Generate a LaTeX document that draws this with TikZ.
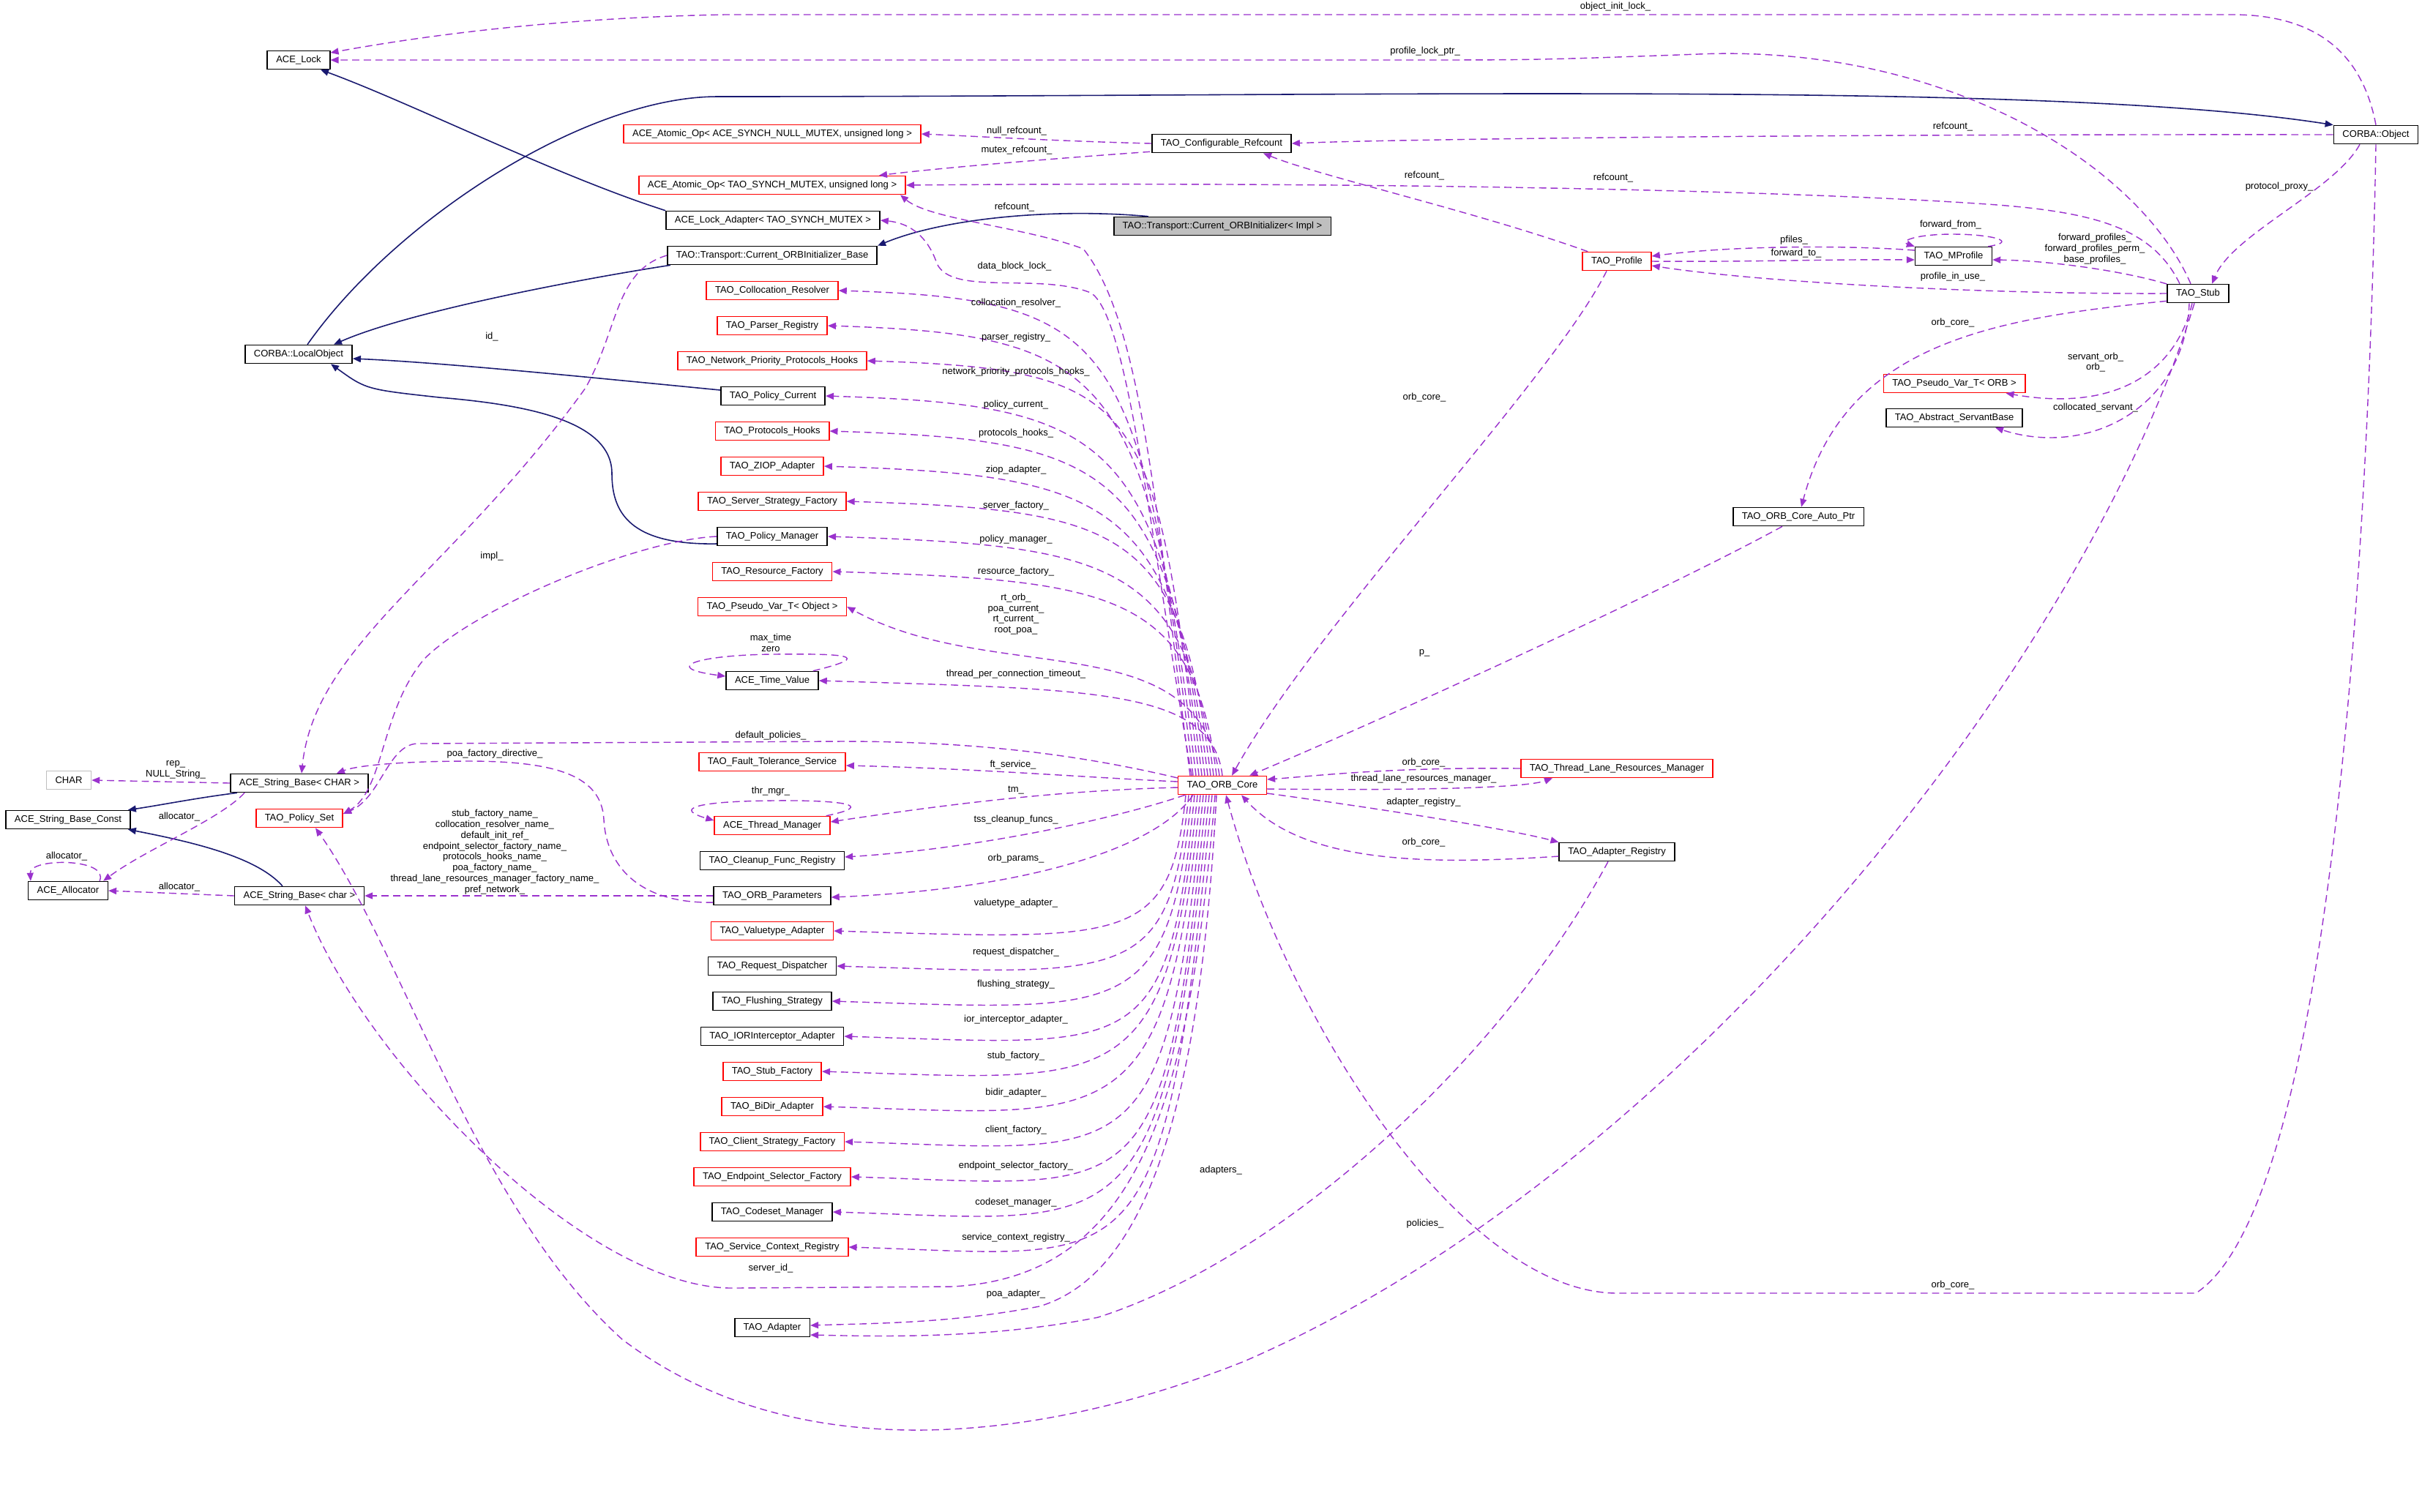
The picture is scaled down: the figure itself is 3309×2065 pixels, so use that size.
\documentclass[tikz,border=0pt]{standalone}
\usepackage{fontspec}
\setmainfont{Liberation Sans}
\usepackage{xcolor}
\usetikzlibrary{arrows.meta, calc}

\definecolor{memberviolet}{HTML}{9A32CD}
\definecolor{basenavy}{HTML}{191970}

\begin{document}
\begin{tikzpicture}[x=0.01cm, y=-0.01cm,
    cls/.style={draw=black, line width=0.45pt, fill=white, inner xsep=0.12cm, inner ysep=0pt,
      minimum height=0.25cm, font=\fontsize{3.7}{4.2}\selectfont},
    clsred/.style={cls, draw=red},
    clsgrey/.style={cls, fill=gray!50},
    clsfaint/.style={cls, draw=gray!50},
    lbl/.style={inner sep=0pt, align=center, font=\fontsize{3.7}{4.2}\selectfont},
    usage/.style={draw=memberviolet, line width=0.4pt, dash pattern=on 2.8pt off 1.7pt,
      -{Triangle[length=0.11cm, width=0.09cm]}},
    derived/.style={draw=basenavy, line width=0.45pt, -{Triangle[length=0.11cm, width=0.09cm]}}]

    % Page
    \fill[white] (0,0) rectangle (3309,2065);
    \useasboundingbox (0,0) rectangle (3309,2065);

    % Upper classes
    \node[cls] (lock) at (408,82) {ACE\_Lock};
    \node[cls] (corbaobj) at (3246,184) {CORBA::Object};
    \node[clsred] (atomicnull) at (1055,183) {ACE\_Atomic\_Op< ACE\_SYNCH\_NULL\_MUTEX, unsigned long >};
    \node[cls] (confref) at (1669,196) {TAO\_Configurable\_Refcount};
    \node[clsred] (atomicmutex) at (1055,253) {ACE\_Atomic\_Op< TAO\_SYNCH\_MUTEX, unsigned long >};
    \node[cls] (lockadapter) at (1056,301) {ACE\_Lock\_Adapter< TAO\_SYNCH\_MUTEX >};
    \node[clsgrey] (impl) at (1670,309) {TAO::Transport::Current\_ORBInitializer< Impl >};
    \node[cls] (initbase) at (1055,349) {TAO::Transport::Current\_ORBInitializer\_Base};

    % Column of ORB core members
    \node[clsred] (collres) at (1055,397) {TAO\_Collocation\_Resolver};
    \node[clsred] (parser) at (1055,445) {TAO\_Parser\_Registry};
    \node[clsred] (netprio) at (1055,493) {TAO\_Network\_Priority\_Protocols\_Hooks};
    \node[cls] (polcur) at (1056,541) {TAO\_Policy\_Current};
    \node[clsred] (prothooks) at (1055,589) {TAO\_Protocols\_Hooks};
    \node[clsred] (ziop) at (1055,637) {TAO\_ZIOP\_Adapter};
    \node[clsred] (serverfac) at (1055,685) {TAO\_Server\_Strategy\_Factory};
    \node[cls] (polmgr) at (1055,733) {TAO\_Policy\_Manager};
    \node[clsred] (resfac) at (1055,781) {TAO\_Resource\_Factory};
    \node[clsred] (pvobj) at (1055,829) {TAO\_Pseudo\_Var\_T< Object >};
    \node[cls] (timeval) at (1055,930) {ACE\_Time\_Value};
    \node[clsred] (ftserv) at (1055,1041) {TAO\_Fault\_Tolerance\_Service};
    \node[clsred] (thrmgr) at (1055,1128) {ACE\_Thread\_Manager};
    \node[cls] (cleanup) at (1055,1176) {TAO\_Cleanup\_Func\_Registry};
    \node[cls] (orbparams) at (1055,1224) {TAO\_ORB\_Parameters};
    \node[clsred] (valuetype) at (1055,1272) {TAO\_Valuetype\_Adapter};
    \node[cls] (reqdisp) at (1055,1320) {TAO\_Request\_Dispatcher};
    \node[cls] (flushing) at (1055,1368) {TAO\_Flushing\_Strategy};
    \node[cls] (iorint) at (1055,1416) {TAO\_IORInterceptor\_Adapter};
    \node[clsred] (stubfac) at (1055,1464) {TAO\_Stub\_Factory};
    \node[clsred] (bidir) at (1055,1512) {TAO\_BiDir\_Adapter};
    \node[clsred] (clientfac) at (1055,1560) {TAO\_Client\_Strategy\_Factory};
    \node[clsred] (endpoint) at (1055,1608) {TAO\_Endpoint\_Selector\_Factory};
    \node[cls] (codeset) at (1055,1656) {TAO\_Codeset\_Manager};
    \node[clsred] (svcctx) at (1055,1704) {TAO\_Service\_Context\_Registry};
    \node[cls] (adapter) at (1055,1814) {TAO\_Adapter};

    % Left classes
    \node[cls] (localobj) at (408,484) {CORBA::LocalObject};
    \node[clsfaint] (charnode) at (94,1066) {CHAR};
    \node[cls] (strbaseCHAR) at (409,1070) {ACE\_String\_Base< CHAR >};
    \node[cls] (strconst) at (93,1120) {ACE\_String\_Base\_Const};
    \node[clsred] (polset) at (409,1118) {TAO\_Policy\_Set};
    \node[cls] (allocator) at (93,1217) {ACE\_Allocator};
    \node[cls] (strbasechar) at (409,1224) {ACE\_String\_Base< char >};

    % Core and right classes
    \node[clsred] (core) at (1670,1073) {TAO\_ORB\_Core};
    \node[clsred] (tlrm) at (2209,1050) {TAO\_Thread\_Lane\_Resources\_Manager};
    \node[cls] (adreg) at (2209,1164) {TAO\_Adapter\_Registry};
    \node[cls] (autoptr) at (2457,706) {TAO\_ORB\_Core\_Auto\_Ptr};
    \node[clsred] (profile) at (2209,357) {TAO\_Profile};
    \node[cls] (mprofile) at (2669,350) {TAO\_MProfile};
    \node[cls] (stub) at (3003,401) {TAO\_Stub};
    \node[clsred] (pvorb) at (2670,524) {TAO\_Pseudo\_Var\_T< ORB >};
    \node[cls] (servant) at (2670,571) {TAO\_Abstract\_ServantBase};

    % Inheritance
    \draw[derived] (lockadapter.north west) .. controls (760,240) and (560,140) .. ($(lock.south)+(30,0)$);
    \draw[derived] ($(localobj.north)+(12,0)$) .. controls (540,300) and (800,132) .. (980,132)
      .. controls (1900,132) and (2800,110) .. (corbaobj.north west);
    \draw[derived] ($(impl.north west)+(48,0)$) .. controls (1440,284) and (1290,298) .. (initbase.north east);
    \draw[derived] ($(initbase.south west)+(5,0)$) .. controls (800,380) and (560,425) .. ($(localobj.north)+(48,0)$);
    \draw[derived] ($(polcur.west)+(0,-8)$) .. controls (800,515) and (600,495) .. ($(localobj.east)+(0,6)$);
    \draw[derived] ($(polmgr.west)+(0,10)$) .. controls (860,745) and (836,700) .. (836,647)
      .. controls (836,575) and (720,553) .. (600,543) .. controls (500,532) .. ($(localobj.south)+(44,0)$);
    \draw[derived] ($(strbaseCHAR.south west)+(10,0)$) .. controls (270,1090) and (220,1100) .. ($(strconst.north east)+(-4,0)$);
    \draw[derived] ($(strbasechar.north)+(-23,0)$) .. controls (350,1170) and (260,1150) .. ($(strconst.south east)+(-4,0)$);

    % CORBA::Object members
    \draw[usage] (corbaobj.north) .. controls (3225,60) and (3150,20) .. (3050,20) -- (990,20)
      .. controls (780,24) and (600,45) .. ($(lock.east)+(0,-10)$);
    \node[lbl] at (2207,9) {object\_init\_lock\_};
    \draw[usage] (corbaobj.west) .. controls (2500,183) and (1900,190) .. (confref.east);
    \node[lbl] at (2668,173) {refcount\_};
    \draw[usage] ($(corbaobj.south)+(-22,0)$) .. controls (3190,260) and (3050,320) .. ($(stub.north)+(19,0)$);
    \node[lbl] at (3114,255) {protocol\_proxy\_};
    \draw[usage] (corbaobj.south) .. controls (3235,800) and (3180,1650) .. (3000,1767) -- (2210,1767)
      .. controls (2000,1767) and (1760,1400) .. ($(core.south)+(5,0)$);
    \node[lbl] at (2668,1756) {orb\_core\_};

    % TAO_Stub members
    \draw[usage] ($(stub.north)+(-10,0)$) .. controls (2920,220) and (2650,60) .. (2320,74)
      .. controls (2100,82) .. (1900,82) -- (lock.east);
    \node[lbl] at (1947,70) {profile\_lock\_ptr\_};
    \draw[usage] ($(stub.north)+(-25,0)$) .. controls (2940,310) and (2860,288) .. (2700,278)
      .. controls (2400,258) and (1800,248) .. (atomicmutex.east);
    \node[lbl] at (2204,243) {refcount\_};
    \draw[usage] ($(stub.south)+(-5,0)$) .. controls (2850,900) and (2300,1600) .. (1700,1860)
      .. controls (1450,1960) and (1100,2020) .. (850,1830) .. controls (650,1650) and (550,1300) .. ($(polset.south)+(22,0)$);
    \node[lbl] at (1947,1672) {policies\_};
    \draw[usage] ($(stub.west)+(0,-13)$) .. controls (2900,370) and (2800,356) .. ($(mprofile.east)+(0,5)$);
    \node[lbl] at (2862,340) {forward\_profiles\_\\forward\_profiles\_perm\_\\base\_profiles\_};
    \draw[usage] (stub.west) .. controls (2700,402) and (2400,385) .. ($(profile.east)+(0,6)$);
    \node[lbl] at (2668,378) {profile\_in\_use\_};
    \draw[usage] ($(stub.south west)+(0,-3)$) .. controls (2720,435) and (2520,470) .. ($(autoptr.north)+(4,0)$);
    \node[lbl] at (2668,441) {orb\_core\_};
    \draw[usage] ($(stub.south)+(-8,0)$) .. controls (2975,500) and (2900,565) .. ($(pvorb.south east)+(-27,0)$);
    \node[lbl] at (2863,495) {servant\_orb\_\\orb\_};
    \draw[usage] ($(stub.south)+(-12,0)$) .. controls (2985,560) and (2850,625) .. ($(servant.south east)+(-38,0)$);
    \node[lbl] at (2863,557) {collocated\_servant\_};

    % Profiles
    \draw[usage] ($(mprofile.north east)+(-6,0)$) .. controls (2760,330) and (2720,320) .. (2668,320)
      .. controls (2615,320) and (2595,330) .. (mprofile.north west);
    \node[lbl] at (2665,307) {forward\_from\_};
    \draw[usage] ($(mprofile.west)+(0,-8)$) .. controls (2540,336) and (2380,334) .. ($(profile.east)+(0,-7)$);
    \node[lbl] at (2451,328) {pfiles\_};
    \draw[usage] (profile.east) .. controls (2400,358) and (2500,354) .. ($(mprofile.west)+(0,5)$);
    \node[lbl] at (2454,346) {forward\_to\_};
    \draw[usage] ($(profile.north west)+(8,0)$) .. controls (2020,290) and (1800,240) .. ($(confref.south)+(57,0)$);
    \node[lbl] at (1946,240) {refcount\_};
    \draw[usage] ($(profile.south)+(-14,0)$) .. controls (2120,520) and (1800,850) .. ($(core.north)+(13,0)$);
    \node[lbl] at (1946,543) {orb\_core\_};

    % Refcount
    \draw[usage] (confref.west) .. controls (1450,193) and (1350,187) .. (atomicnull.east);
    \node[lbl] at (1389,179) {null\_refcount\_};
    \draw[usage] ($(confref.south west)+(-2,-2)$) .. controls (1420,218) and (1280,230) .. ($(atomicmutex.north east)+(-37,0)$);
    \node[lbl] at (1389,205) {mutex\_refcount\_};

    % Core neighbours on the right
    \draw[usage] ($(autoptr.south)+(-22,0)$) .. controls (2250,820) and (1850,1000) .. ($(core.north)+(37,0)$);
    \node[lbl] at (1946,892) {p\_};
    \draw[usage] (tlrm.west) .. controls (1900,1048) and (1800,1060) .. ($(core.east)+(0,-8)$);
    \node[lbl] at (1945,1042) {orb\_core\_};
    \draw[usage] ($(core.east)+(0,5)$) .. controls (1900,1080) and (2080,1078) .. ($(tlrm.south west)+(44,0)$);
    \node[lbl] at (1945,1064) {thread\_lane\_resources\_manager\_};
    \draw[usage] ($(core.east)+(0,11)$) .. controls (1850,1100) and (2050,1130) .. (adreg.north west);
    \node[lbl] at (1945,1096) {adapter\_registry\_};
    \draw[usage] ($(adreg.west)+(0,6)$) .. controls (1950,1182) and (1780,1180) .. ($(core.south east)+(-35,0)$);
    \node[lbl] at (1945,1151) {orb\_core\_};
    \draw[usage] ($(adreg.south)+(-12,0)$) .. controls (2050,1450) and (1750,1720) .. (1500,1800)
      .. controls (1350,1830) and (1200,1826) .. ($(adapter.east)+(0,10)$);
    \node[lbl] at (1668,1599) {adapters\_};

    % Core members above
    \draw[usage] ($(core.north)+(-44,0)$) .. controls (1580,700) and (1560,440) .. (1480,340)
      .. controls (1400,310) and (1270,300) .. ($(atomicmutex.south east)+(-8,0)$);
    \node[lbl] at (1386,283) {refcount\_};
    \draw[usage] ($(core.north)+(-42,0)$) .. controls (1570,720) and (1540,430) .. (1490,400)
      .. controls (1420,372) and (1300,405) .. (1280,360) .. controls (1268,325) and (1245,305) .. (lockadapter.east);
    \node[lbl] at (1386,364) {data\_block\_lock\_};
    \foreach \tgt/\sx/\h/\d/\txt/\ly in {
        collres/-40/598/12/collocation\_resolver\_/414,
        parser/-36/554/12/parser\_registry\_/461,
        netprio/-32/511/12/network\_priority\_protocols\_hooks\_/508,
        polcur/-28/468/12/policy\_current\_/553,
        prothooks/-24/425/12/protocols\_hooks\_/592,
        ziop/-20/382/12/ziop\_adapter\_/642,
        serverfac/-16/338/12/server\_factory\_/691,
        polmgr/-12/295/12/policy\_manager\_/737,
        resfac/-8/252/12/resource\_factory\_/781,
        timeval/0/118/12/thread\_per\_connection\_timeout\_/921} {
      \draw[usage] ($(core.north)+(\sx,0)$) .. controls +(-0.12*\h,-\h) and +(380,\d) .. (\tgt.east);
      \node[lbl] at (1388,\ly) {\txt};
    }
    \draw[usage] ($(core.north)+(-4,0)$) .. controls +(-30,-209) and +(200,110) .. (pvobj.east);
    \node[lbl] at (1388,839) {rt\_orb\_\\poa\_current\_\\rt\_current\_\\root\_poa\_};

    % Core members to the left
    \draw[usage] ($(core.west)+(0,-10)$) .. controls (1450,1025) and (1300,1013) .. (1150,1013) -- (570,1016)
      .. controls (530,1018) and (520,1090) .. ($(polset.east)+(0,-6)$);
    \node[lbl] at (1053,1005) {default\_policies\_};
    \draw[usage] ($(core.west)+(0,-5)$) .. controls (1480,1062) and (1330,1050) .. ($(ftserv.east)+(0,5)$);
    \node[lbl] at (1384,1045) {ft\_service\_};
    \draw[usage] ($(core.west)+(0,3)$) .. controls (1450,1080) and (1300,1098) .. ($(thrmgr.east)+(0,-5)$);
    \node[lbl] at (1388,1080) {tm\_};
    \draw[usage] ($(core.south west)+(10,0)$) .. controls (1520,1120) and (1330,1160) .. ($(cleanup.east)+(0,-5)$);
    \node[lbl] at (1388,1120) {tss\_cleanup\_funcs\_};
    \draw[usage] ($(core.south)+(-40,0)$) .. controls (1580,1160) and (1400,1215) .. ($(orbparams.east)+(0,2)$);
    \node[lbl] at (1388,1173) {orb\_params\_};

    % Core members below
    \foreach \tgt/\sx/\h/\d/\txt/\ly in {
        valuetype/-50/206/12/valuetype\_adapter\_/1234,
        reqdisp/-46/259/12/request\_dispatcher\_/1301,
        flushing/-42/312/12/flushing\_strategy\_/1345,
        iorint/-38/365/12/ior\_interceptor\_adapter\_/1393,
        stubfac/-34/417/12/stub\_factory\_/1443,
        bidir/-30/470/12/bidir\_adapter\_/1493,
        clientfac/-26/523/12/client\_factory\_/1544,
        endpoint/-22/576/12/endpoint\_selector\_factory\_/1593,
        codeset/-18/629/12/codeset\_manager\_/1643,
        svcctx/-14/682/12/service\_context\_registry\_/1691} {
      \draw[usage] ($(core.south)+(\sx,0)$) .. controls +(-0.1*\h,\h) and +(400,\d) .. (\tgt.east);
      \node[lbl] at (1388,\ly) {\txt};
    }
    \draw[usage] ($(core.south)+(-8,0)$) .. controls (1640,1500) and (1570,1740) .. (1420,1785)
      .. controls (1300,1808) and (1200,1808) .. ($(adapter.east)+(0,-3)$);
    \node[lbl] at (1388,1768) {poa\_adapter\_};
    \draw[usage] ($(core.south)+(-10,0)$) .. controls (1625,1500) and (1560,1745) .. (1300,1758) -- (1000,1760)
      .. controls (800,1760) and (500,1450) .. ($(strbasechar.south)+(8,0)$);
    \node[lbl] at (1053,1733) {server\_id\_};

    % Other left members
    \draw[usage] (initbase.west) .. controls (840,370) and (845,450) .. (800,530)
      .. controls (620,780) and (430,880) .. ($(strbaseCHAR.north)+(3,0)$);
    \node[lbl] at (672,460) {id\_};
    \draw[usage] (polmgr.west) .. controls (870,738) and (650,830) .. (580,900)
      .. controls (520,970) and (525,1080) .. ($(polset.east)+(0,-6)$);
    \node[lbl] at (672,760) {impl\_};
    \draw[usage] ($(orbparams.west)+(0,9)$) .. controls (870,1235) and (828,1180) .. (825,1120)
      .. controls (822,1060) and (760,1040) .. (640,1040) .. controls (560,1040) and (490,1045) .. ($(strbaseCHAR.north east)+(-44,0)$);
    \node[lbl] at (676,1030) {poa\_factory\_directive\_};
    \draw[usage] (orbparams.west) -- (strbasechar.east);
    \node[lbl] at (676,1164) {stub\_factory\_name\_\\collocation\_resolver\_name\_\\default\_init\_ref\_\\endpoint\_selector\_factory\_name\_\\protocols\_hooks\_name\_\\poa\_factory\_name\_\\thread\_lane\_resources\_manager\_factory\_name\_\\pref\_network\_};
    \draw[usage] (strbaseCHAR.west) -- (charnode.east);
    \node[lbl] at (240,1052) {rep\_\\NULL\_String\_};
    \draw[usage] ($(strbaseCHAR.south west)+(20,0)$) .. controls (300,1120) and (200,1160) .. ($(allocator.north east)+(-7,0)$);
    \node[lbl] at (245,1116) {allocator\_};
    \draw[usage] (strbasechar.west) -- (allocator.east);
    \node[lbl] at (245,1212) {allocator\_};

    % Self references
    \draw[usage] ($(allocator.north east)+(-12,0)$) .. controls (150,1172) and (40,1172) .. ($(allocator.north west)+(4,0)$);
    \node[lbl] at (91,1170) {allocator\_};
    \draw[usage] ($(timeval.north east)+(-8,0)$) .. controls (1200,895) and (1150,893) .. (1055,894)
      .. controls (955,895) and (900,912) .. ($(timeval.west)+(0,-6)$);
    \node[lbl] at (1053,878) {max\_time\\zero};
    \draw[usage] ($(thrmgr.north east)+(-6,0)$) .. controls (1200,1100) and (1150,1093) .. (1055,1094)
      .. controls (950,1095) and (920,1105) .. ($(thrmgr.west)+(0,-7)$);
    \node[lbl] at (1053,1081) {thr\_mgr\_};
  \end{tikzpicture}
\end{document}
